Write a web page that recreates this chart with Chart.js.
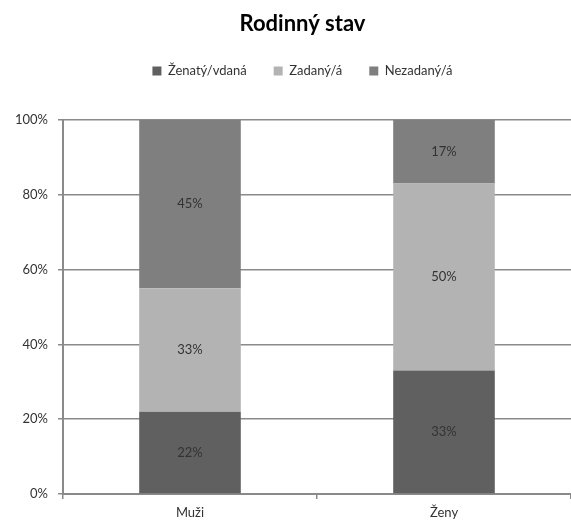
<!DOCTYPE html>
<html>
<head>
<meta charset="utf-8">
<script src="https://cdn.jsdelivr.net/npm/chart.js@4.4.0/dist/chart.umd.min.js"></script>
<style>
  html, body { margin: 0; padding: 0; background: #fff; }
  #wrap { width: 571px; height: 525px; }
</style>
</head>
<body>
<div id="wrap"><canvas id="c" width="571" height="525"></canvas></div>
<script>
const categories = ['Muži', 'Ženy'];
const seriesNames = ['Ženatý/vdaná', 'Zadaný/á', 'Nezadaný/á'];
const married = [22, 33];
const partnered = [33, 50];
const single = [45, 17];
const yTicks = [0, 20, 40, 60, 80, 100];

const colors = ['#606060', '#b3b3b3', '#7f7f7f'];
const gridColor = '#8a8a8a';
const textColor = '#333333';
const fontFamily = 'Lato, "Open Sans", sans-serif';

// procenta doprostred sloupcu
const barLabels = {
  id: 'barLabels',
  afterDatasetsDraw(chart) {
    const ctx = chart.ctx;
    ctx.save();
    ctx.font = '13px ' + fontFamily;
    ctx.fillStyle = textColor;
    ctx.textAlign = 'center';
    ctx.textBaseline = 'middle';
    chart.data.datasets.forEach((ds, i) => {
      chart.getDatasetMeta(i).data.forEach((bar, j) => {
        const p = bar.getProps(['x', 'y', 'base'], true);
        ctx.fillText(ds.data[j] + '%', p.x, (p.y + p.base) / 2);
      });
    });
    ctx.restore();
  }
};

// mezera pod legendou, titulek a legenda trochu doprava
const legendSpace = {
  id: 'legendSpace',
  beforeInit(chart) {
    const fit = chart.legend.fit;
    chart.legend.fit = function () {
      fit.call(this);
      this.height += 32.6;
    };
  },
  afterLayout(chart) {
    chart.legend.left += 34;
    chart.titleBlock.left += 34;
  }
};

new Chart(document.getElementById('c'), {
  type: 'bar',
  data: {
    labels: categories,
    datasets: [
      { label: seriesNames[0], data: married, backgroundColor: colors[0] },
      { label: seriesNames[1], data: partnered, backgroundColor: colors[1] },
      { label: seriesNames[2], data: single, backgroundColor: colors[2] }
    ]
  },
  options: {
    responsive: false,
    animation: false,
    layout: { padding: 0 },
    datasets: { bar: { barPercentage: 0.4, categoryPercentage: 1, borderWidth: 0 } },
    plugins: {
      title: {
        display: true,
        text: 'Rodinný stav',
        color: '#000',
        font: { family: fontFamily, size: 22, weight: 'bold' },
        padding: { top: 11, bottom: 0 }
      },
      legend: {
        position: 'top',
        labels: {
          color: textColor,
          font: { family: fontFamily, size: 13 },
          boxWidth: 9,
          boxHeight: 9,
          padding: 27
        }
      },
      tooltip: { enabled: false }
    },
    scales: {
      x: {
        stacked: true,
        offset: true,
        afterFit(scale) { scale.height = 31; },
        grid: { offset: true, drawOnChartArea: false, drawTicks: true, tickLength: 5, color: gridColor, lineWidth: 1.5 },
        border: { color: gridColor, width: 2 },
        ticks: { color: textColor, font: { family: fontFamily, size: 13 }, padding: 6 }
      },
      y: {
        stacked: true,
        min: 0,
        max: 100,
        afterFit(scale) { scale.width = 63; },
        afterBuildTicks(scale) { scale.ticks = yTicks.map(v => ({ value: v })); },
        grid: { color: gridColor, lineWidth: 1.5, tickLength: 5 },
        border: { color: gridColor, width: 2 },
        ticks: {
          color: textColor,
          font: { family: fontFamily, size: 13 },
          padding: 10,
          callback: v => v + '%'
        }
      }
    }
  },
  plugins: [barLabels, legendSpace]
});
</script>
</body>
</html>
